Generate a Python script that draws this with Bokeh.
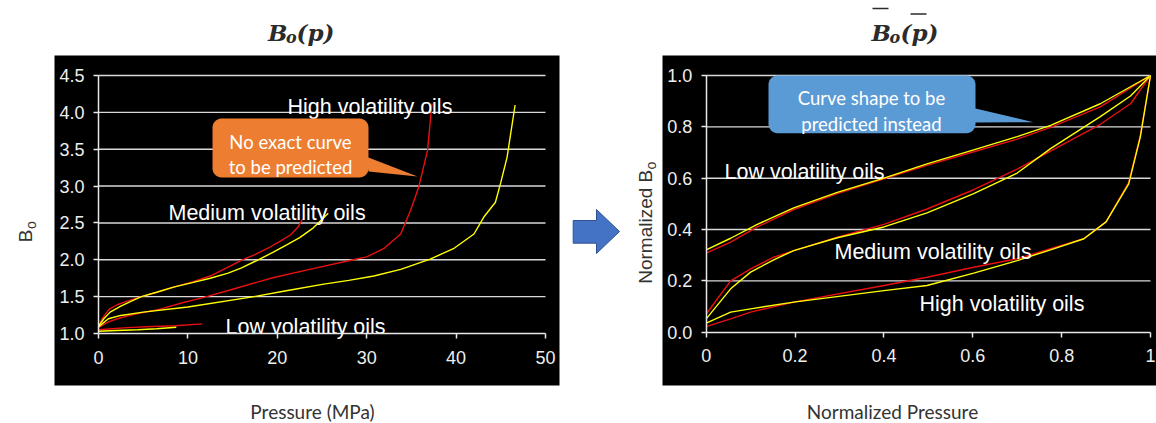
import numpy as np
from bokeh.plotting import figure
from bokeh.models import Range1d, LinearAxis, FixedTicker, NumeralTickFormatter
from bokeh.layouts import row
from bokeh.core.properties import value
from bokeh.embed import file_html
from bokeh.resources import INLINE

# ---------------- data: left chart, Bo vs pressure (MPa) ----------------
p_ticks = [0, 10, 20, 30, 40, 50]
bo_ticks = [1.0, 1.5, 2.0, 2.5, 3.0, 3.5, 4.0, 4.5]

low_red_p = [0, 1.5, 3.2, 6.0, 8.6, 11.6]
low_red_bo = [1.05, 1.065, 1.08, 1.095, 1.105, 1.13]
low_yel_p = [0, 2.0, 4.4, 6.5, 8.7]
low_yel_bo = [1.03, 1.04, 1.05, 1.065, 1.085]

med_red_p = [0, 0.4, 1.2, 2.1, 3.2, 4.8, 6.5, 8.4, 10.5, 12.5, 14.5, 15.9, 17.5, 19.0, 20.3, 21.5, 22.3, 22.8]
med_red_bo = [1.09, 1.2, 1.33, 1.39, 1.44, 1.5, 1.56, 1.63, 1.7, 1.78, 1.9, 1.99, 2.07, 2.16, 2.25, 2.34, 2.44, 2.55]
med_yel_p = [0, 0.6, 1.3, 2.5, 3.5, 4.8, 6.5, 8.4, 10.5, 12.5, 14.5, 16.0, 17.7, 19.5, 21.0, 22.5, 24.0, 25.7]
med_yel_bo = [1.1, 1.2, 1.29, 1.37, 1.43, 1.5, 1.56, 1.63, 1.69, 1.75, 1.82, 1.89, 1.99, 2.1, 2.2, 2.3, 2.43, 2.63]

high_red_p = [0, 1.0, 2.1, 4.0, 6.9, 9.5, 11.8, 15.0, 19.6, 24.0, 28.5, 30.0, 31.9, 33.8, 34.9, 35.8, 36.8, 37.3]
high_red_bo = [1.08, 1.15, 1.2, 1.26, 1.33, 1.42, 1.49, 1.6, 1.76, 1.88, 2.0, 2.04, 2.15, 2.35, 2.67, 2.98, 3.48, 4.12]
high_yel_p = [0, 1.1, 2.5, 5.0, 10.0, 17.4, 21.0, 25.2, 28.0, 30.8, 33.8, 37.1, 39.7, 42.0, 43.1, 44.4, 45.0, 45.7, 46.6]
high_yel_bo = [1.09, 1.2, 1.245, 1.29, 1.36, 1.5, 1.58, 1.67, 1.72, 1.78, 1.87, 2.01, 2.15, 2.35, 2.58, 2.78, 3.05, 3.39, 4.1]

# ---------------- data: right chart, normalized ----------------
np_ticks = [0, 0.2, 0.4, 0.6, 0.8, 1.0]
nbo_ticks = [0.0, 0.2, 0.4, 0.6, 0.8, 1.0]

n_low_u = [0, 0.055, 0.115, 0.197, 0.295, 0.4, 0.497, 0.602, 0.7, 0.775, 0.887, 1.0]
n_low_red_v = [0.308, 0.351, 0.41, 0.478, 0.54, 0.597, 0.65, 0.703, 0.752, 0.798, 0.878, 1.0]
n_low_yel_v = [0.321, 0.366, 0.42, 0.484, 0.545, 0.6, 0.656, 0.71, 0.762, 0.806, 0.89, 1.0]

n_med_u = [0, 0.055, 0.1, 0.152, 0.197, 0.295, 0.4, 0.497, 0.602, 0.7, 0.775, 0.887, 0.955, 1.0]
n_med_red_v = [0.071, 0.2, 0.247, 0.292, 0.318, 0.37, 0.42, 0.48, 0.555, 0.635, 0.705, 0.81, 0.89, 1.0]
n_med_yel_v = [0.052, 0.169, 0.234, 0.282, 0.318, 0.368, 0.41, 0.465, 0.54, 0.62, 0.715, 0.84, 0.92, 1.0]

n_high_u = [0, 0.055, 0.1, 0.197, 0.4, 0.497, 0.602, 0.7, 0.775, 0.85, 0.9, 0.951, 0.977, 1.0]
n_high_red_v = [0.022, 0.052, 0.078, 0.117, 0.182, 0.214, 0.253, 0.286, 0.325, 0.364, 0.43, 0.584, 0.766, 1.0]
n_high_yel_v = [0.035, 0.078, 0.091, 0.117, 0.162, 0.182, 0.23, 0.279, 0.321, 0.364, 0.43, 0.578, 0.76, 1.0]

# ---------------- styles ----------------
RED = "#e81010"
YEL = "#ffff00"
GRID = "#d9d9d9"
TICK_TXT = "#eeeeee"
DARK = "#2b2b2b"
SANS = "Liberation Sans"
CAL = "Lato"
SERIF = "DejaVu Serif"

# page-pixel anchors (layout only)
L_PX0, L_SX, L_PY0, L_SY = 98.0, 8.94, 333.0, 73.714
R_PX0, R_SX, R_PY0, R_SY = 705.7, 444.3, 331.7, 256.7
PAGE_W, PAGE_H, SPLIT = 1156, 423, 560


def lx(px):
    return p_ticks[0] + (px - L_PX0) / L_SX


def ly(py):
    return bo_ticks[0] + (L_PY0 - py) / L_SY


def rx(px):
    return np_ticks[0] + (px - R_PX0) / R_SX


def ry(py):
    return nbo_ticks[0] + (R_PY0 - py) / R_SY


def callout_poly(x0, y0, x1, y1, r, pt, pb, tip):
    xs, ys = [], []
    def arc(cx, cy, a0, a1):
        for a in np.linspace(np.radians(a0), np.radians(a1), 8):
            xs.append(cx + r * np.cos(a))
            ys.append(cy + r * np.sin(a))
    arc(x1 - r, y0 + r, -90, 0)
    xs.extend([x1, tip[0], x1]); ys.extend([pt, tip[1], pb])
    arc(x1 - r, y1 - r, 0, 90)
    arc(x0 + r, y1 - r, 90, 180)
    arc(x0 + r, y0 + r, 180, 270)
    return xs, ys


def style_axis(ax, standoff):
    ax.axis_line_color = "#e8e8e8"
    ax.axis_line_width = 1.5
    ax.major_tick_line_color = "#e8e8e8"
    ax.major_tick_line_width = 1.5
    ax.major_tick_out = 5
    ax.major_tick_in = 0
    ax.minor_tick_line_color = None
    ax.major_label_text_color = TICK_TXT
    ax.major_label_text_font = SANS
    ax.major_label_text_font_size = "18px"
    ax.major_label_standoff = standoff


def txt(p, x, y, s, font, size, color, align="left", style="normal", angle=0.0):
    p.text(x=[x], y=[y], text=[s], text_font=value(font), text_font_size=value(size),
           text_color=color, text_align=align, text_baseline="alphabetic",
           text_font_style=style, angle=angle)


# ================= left figure =================
pL = figure(width=SPLIT, height=PAGE_H, x_range=Range1d(lx(0), lx(SPLIT)), y_range=Range1d(ly(PAGE_H), ly(0)),
            x_axis_type=None, y_axis_type=None, toolbar_location=None, output_backend="svg",
            min_border=0, outline_line_color=None, background_fill_color="white",
            border_fill_color="white")

pL.quad(left=lx(54), right=lx(559), bottom=ly(385), top=ly(55), fill_color="black", line_color=None)
pL.segment(x0=p_ticks[0], x1=p_ticks[-1], y0=bo_ticks[1:], y1=bo_ticks[1:], line_color=GRID, line_width=1.4)

xa = LinearAxis(fixed_location=bo_ticks[0], bounds=(p_ticks[0], p_ticks[-1]), ticker=FixedTicker(ticks=p_ticks),
                formatter=NumeralTickFormatter(format="0"))
style_axis(xa, 12)
pL.add_layout(xa, "below")
ya = LinearAxis(fixed_location=p_ticks[0], bounds=(bo_ticks[0], bo_ticks[-1]), ticker=FixedTicker(ticks=bo_ticks),
                formatter=NumeralTickFormatter(format="0.0"))
style_axis(ya, 9)
pL.add_layout(ya, "left")

for px_, py_, c in [(low_red_p, low_red_bo, RED), (low_yel_p, low_yel_bo, YEL),
                    (med_red_p, med_red_bo, RED), (med_yel_p, med_yel_bo, YEL),
                    (high_red_p, high_red_bo, RED), (high_yel_p, high_yel_bo, YEL)]:
    pL.line(px_, py_, line_color=c, line_width=1.4)

txt(pL, lx(287), ly(106.7), "High volatility oils", SANS, "21.5px", "white")
txt(pL, lx(168), ly(212.3), "Medium volatility oils", SANS, "21.5px", "white")
txt(pL, lx(225), ly(326.7), "Low volatility oils", SANS, "21.5px", "white")

cx, cy = callout_poly(212, 118, 368, 177, 9, 157, 171, (417, 176))
pL.patch([lx(v) for v in cx], [ly(v) for v in cy], fill_color="#ed7d31", line_color=None)
txt(pL, lx(290), ly(141.7), "No exact curve", CAL, "18.5px", "white", align="center")
txt(pL, lx(290), ly(166.7), "to be predicted", CAL, "18.5px", "white", align="center")

# title B_o(p)
txt(pL, lx(267.5), ly(31.7), "B", SERIF, "23px", DARK, style="bold italic")
txt(pL, lx(285.5), ly(36.5), "o", SERIF, "16px", DARK, style="bold italic")
txt(pL, lx(296.0), ly(31.7), "(p)", SERIF, "23px", DARK, style="bold italic")

# axis titles
txt(pL, lx(312), ly(411), "Pressure (MPa)", CAL, "19px", "#333333", align="center")
txt(pL, lx(25), ly(241.7), "B", SANS, "19px", "#333333", angle=np.pi / 2)
txt(pL, lx(30), ly(228.5), "o", SANS, "14px", "#333333", angle=np.pi / 2)

# ================= right figure =================
pR = figure(width=PAGE_W - SPLIT, height=PAGE_H, x_range=Range1d(rx(SPLIT), rx(PAGE_W)), y_range=Range1d(ry(PAGE_H), ry(0)),
            x_axis_type=None, y_axis_type=None, toolbar_location=None, output_backend="svg",
            min_border=0, outline_line_color=None, background_fill_color="white",
            border_fill_color="white")

pR.quad(left=rx(662), right=rx(PAGE_W), bottom=ry(385), top=ry(55), fill_color="black", line_color=None)
pR.segment(x0=np_ticks[0], x1=np_ticks[-1], y0=nbo_ticks[1:], y1=nbo_ticks[1:], line_color=GRID, line_width=1.4)

xb = LinearAxis(fixed_location=nbo_ticks[0], bounds=(np_ticks[0], np_ticks[-1]), ticker=FixedTicker(ticks=np_ticks),
                formatter=NumeralTickFormatter(format="0.[0]"))
style_axis(xb, 12)
pR.add_layout(xb, "below")
yb = LinearAxis(fixed_location=np_ticks[0], bounds=(nbo_ticks[0], nbo_ticks[-1]), ticker=FixedTicker(ticks=nbo_ticks),
                formatter=NumeralTickFormatter(format="0.0"))
style_axis(yb, 9)
pR.add_layout(yb, "left")

for u_, v_, c in [(n_low_u, n_low_red_v, RED), (n_low_u, n_low_yel_v, YEL),
                  (n_med_u, n_med_red_v, RED), (n_med_u, n_med_yel_v, YEL),
                  (n_high_u, n_high_red_v, RED), (n_high_u, n_high_yel_v, YEL)]:
    pR.line(u_, v_, line_color=c, line_width=1.4)

txt(pR, rx(724), ry(171.7), "Low volatility oils", SANS, "21.5px", "white")
txt(pR, rx(834), ry(251.7), "Medium volatility oils", SANS, "21.5px", "white")
txt(pR, rx(919), ry(303.3), "High volatility oils", SANS, "21.5px", "white")

bx, by = callout_poly(768, 75, 975, 132.7, 9, 108, 122, (1033, 121.7))
pR.patch([rx(v) for v in bx], [ry(v) for v in by], fill_color="#5b9bd5", line_color=None)
txt(pR, rx(871), ry(97.3), "Curve shape to be", CAL, "18.5px", "white", align="center")
txt(pR, rx(871), ry(123.3), "predicted instead", CAL, "18.5px", "white", align="center")

# arrow
ax_ = [572.7, 596, 596, 619, 596, 596, 572.7]
ay_ = [220, 220, 209, 231, 253, 242.7, 242.7]
pR.patch([rx(v) for v in ax_], [ry(v) for v in ay_], fill_color="#4472c4", line_color="#2f528f", line_width=1)

# title with overlines
txt(pR, rx(871.0), ry(31.7), "B", SERIF, "23px", DARK, style="bold italic")
txt(pR, rx(889.0), ry(36.5), "o", SERIF, "16px", DARK, style="bold italic")
txt(pR, rx(900.0), ry(31.7), "(p)", SERIF, "23px", DARK, style="bold italic")
pR.segment(x0=[rx(872), rx(910)], x1=[rx(888), rx(926)], y0=[ry(8), ry(13.5)], y1=[ry(8), ry(13.5)],
           line_color=DARK, line_width=1.6)

txt(pR, rx(892), ry(411), "Normalized Pressure", CAL, "19px", "#333333", align="center")
txt(pR, rx(645), ry(283.3), "Normalized B", SANS, "19px", "#333333", angle=np.pi / 2)
txt(pR, rx(650), ry(169.0), "o", SANS, "14px", "#333333", angle=np.pi / 2)

layout = row(pL, pR, spacing=0)
open("out.html", "w").write(file_html(layout, INLINE))
